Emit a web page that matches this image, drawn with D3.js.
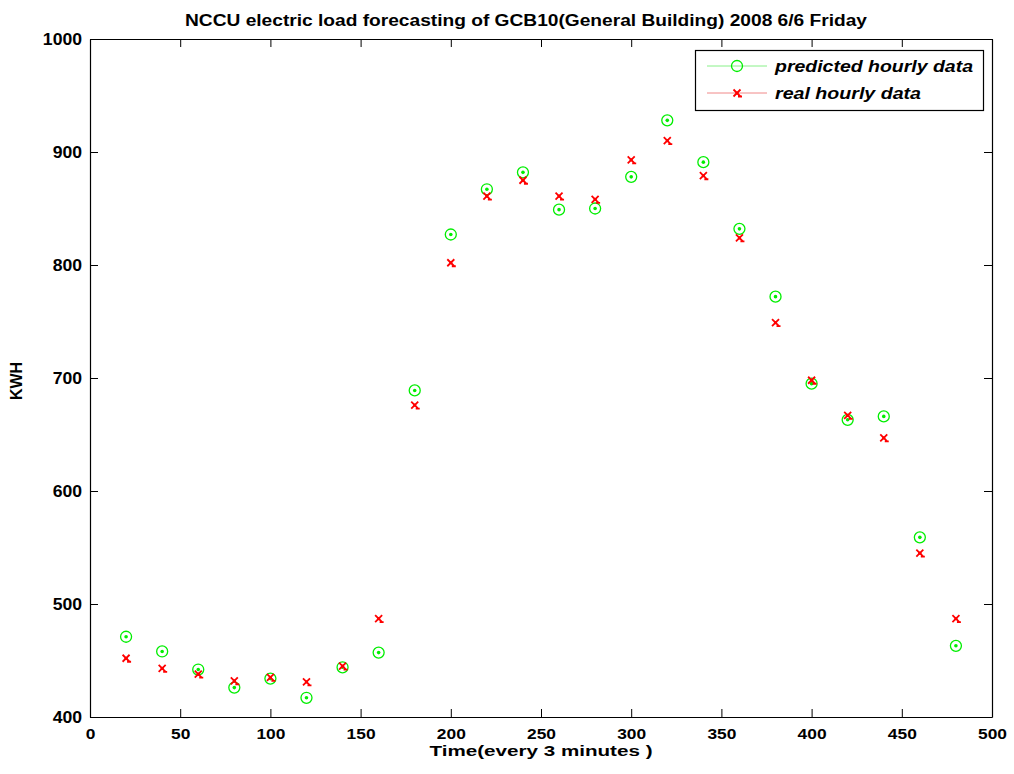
<!DOCTYPE html>
<html>
<head>
<meta charset="utf-8">
<script src="https://cdn.jsdelivr.net/npm/d3@7"></script>
<style>
    body { margin: 0; background: #ffffff; }
    text { font-family: "Liberation Sans", Arial, sans-serif; font-weight: bold; }
</style>
</head>
<body>
<script>
// Données
const times = [20, 40, 60, 80, 100, 120, 140, 160, 180, 200, 220, 240, 260, 280, 300, 320, 340, 360, 380, 400, 420, 440, 460, 480]
const predicted = [471, 458, 442, 426, 434, 417, 444, 457, 689, 827, 867, 882, 849, 850, 878, 928, 891, 832, 772, 695, 663, 666, 559, 463]
const real = [452, 443, 438, 432, 435, 431, 445, 487, 676, 802, 861, 875, 861, 858, 893, 910, 879, 824, 749, 698, 667, 647, 545, 487]
const xTicks = [0, 50, 100, 150, 200, 250, 300, 350, 400, 450, 500]
const yTicks = [400, 500, 600, 700, 800, 900, 1000]
const seriesNames = ['predicted hourly data', 'real hourly data']

const width = 1014, height = 774
const margin = { top: 39, right: 22, bottom: 57, left: 90 },
    plotWidth = width - margin.left - margin.right,
    plotHeight = height - margin.top - margin.bottom

// Étire le texte horizontalement (l'image d'origine est élargie)
const stretch = (sel, k) => {
    sel.each(function () {
        const w = this.getComputedTextLength()
        d3.select(this).attr('textLength', w * k).attr('lengthAdjust', 'spacingAndGlyphs')
    })
}

const svg = d3.select('body').append('svg')
    .attr('width', width)
    .attr('height', height)

const g = svg.append('g')
    .attr('transform', `translate(${margin.left}, ${margin.top})`)

const x = d3.scaleLinear().domain([0, 500]).range([0, plotWidth])
const y = d3.scaleLinear().domain([400, 1000]).range([plotHeight, 0])

// Axes (ticks vers l'intérieur, sur les 4 côtés)
const tick = 8
const xAxis = g.append('g')
    .attr('transform', `translate(0, ${plotHeight})`)
    .call(d3.axisBottom(x).tickValues(xTicks).tickSizeInner(-tick).tickSizeOuter(0).tickFormat(d3.format('d')))
const yAxis = g.append('g')
    .call(d3.axisLeft(y).tickValues(yTicks).tickSizeInner(-tick).tickSizeOuter(0).tickFormat(d3.format('d')))
g.append('g')
    .call(d3.axisTop(x).tickValues(xTicks).tickSizeInner(-tick).tickSizeOuter(0).tickFormat(''))
g.append('g')
    .attr('transform', `translate(${plotWidth}, 0)`)
    .call(d3.axisRight(y).tickValues(yTicks).tickSizeInner(-tick).tickSizeOuter(0).tickFormat(''))

g.selectAll('.domain').attr('stroke', '#000000').attr('stroke-width', 1.2)
g.selectAll('.tick line').attr('stroke', '#000000').attr('stroke-width', 1)

xAxis.selectAll('text')
    .style('font-size', '15.5px')
    .attr('fill', '#000000')
    .attr('y', 22)
    .attr('dy', 0)
yAxis.selectAll('text')
    .style('font-size', '16px')
    .attr('fill', '#000000')
    .attr('x', -8)
stretch(xAxis.selectAll('text'), 1.12)
stretch(yAxis.selectAll('text'), 1.1)

// Titre et labels
svg.append('text')
    .attr('x', 526)
    .attr('y', 26)
    .attr('text-anchor', 'middle')
    .style('font-size', '16px')
    .attr('textLength', 682)
    .attr('lengthAdjust', 'spacingAndGlyphs')
    .text('NCCU electric load forecasting of GCB10(General Building) 2008 6/6 Friday')

svg.append('text')
    .attr('x', margin.left + plotWidth / 2)
    .attr('y', 756)
    .attr('text-anchor', 'middle')
    .style('font-size', '15px')
    .attr('textLength', 223)
    .attr('lengthAdjust', 'spacingAndGlyphs')
    .text('Time(every 3 minutes )')

svg.append('text')
    .attr('transform', `translate(22, 381) rotate(-90)`)
    .attr('text-anchor', 'middle')
    .style('font-size', '16px')
    .text('KWH')

// Marqueurs
const green = '#00ee00', red = '#ff0000'

const drawCircle = (sel, cx, cy) => {
    sel.append('circle')
        .attr('cx', cx).attr('cy', cy).attr('r', 5.5)
        .attr('fill', 'none').attr('stroke', green).attr('stroke-width', 1.3)
    sel.append('circle')
        .attr('cx', cx).attr('cy', cy).attr('r', 1.8)
        .attr('fill', green)
}

const drawCross = (sel, cx, cy) => {
    const s = 3.5
    sel.append('path')
        .attr('d', `M${cx - s},${cy - s}L${cx + s},${cy + s}M${cx - s},${cy + s}L${cx + s},${cy - s}M${cx + 1},${cy + s}L${cx + s + 1.5},${cy + s}`)
        .attr('stroke', red).attr('stroke-width', 1.8).attr('fill', 'none')
    sel.append('circle')
        .attr('cx', cx).attr('cy', cy).attr('r', 1.6)
        .attr('fill', red)
}

const points = g.append('g')
times.forEach((t, i) => {
    drawCircle(points, x(t), y(predicted[i]))
})
times.forEach((t, i) => {
    drawCross(points, x(t), y(real[i]))
})

// Légende
const legend = svg.append('g')
legend.append('rect')
    .attr('x', 695.5).attr('y', 50.5)
    .attr('width', 288).attr('height', 60)
    .attr('fill', '#ffffff').attr('stroke', '#000000').attr('stroke-width', 1.2)

const legendRows = [66, 93]
legendRows.forEach((ly, i) => {
    legend.append('line')
        .attr('x1', 707).attr('x2', 767)
        .attr('y1', ly).attr('y2', ly)
        .attr('stroke', i === 0 ? '#88f088' : '#f08888')
        .attr('stroke-width', 1)
    if (i === 0) {
        legend.append('circle')
            .attr('cx', 737).attr('cy', ly).attr('r', 5.5)
            .attr('fill', 'none').attr('stroke', green).attr('stroke-width', 1.3)
    } else {
        drawCross(legend, 737, ly)
    }
    legend.append('text')
        .attr('x', 775)
        .attr('y', ly + 6)
        .style('font-size', '17px')
        .style('font-style', 'italic')
        .attr('textLength', i === 0 ? 198 : 146)
        .attr('lengthAdjust', 'spacingAndGlyphs')
        .text(seriesNames[i])
})
</script>
</body>
</html>
